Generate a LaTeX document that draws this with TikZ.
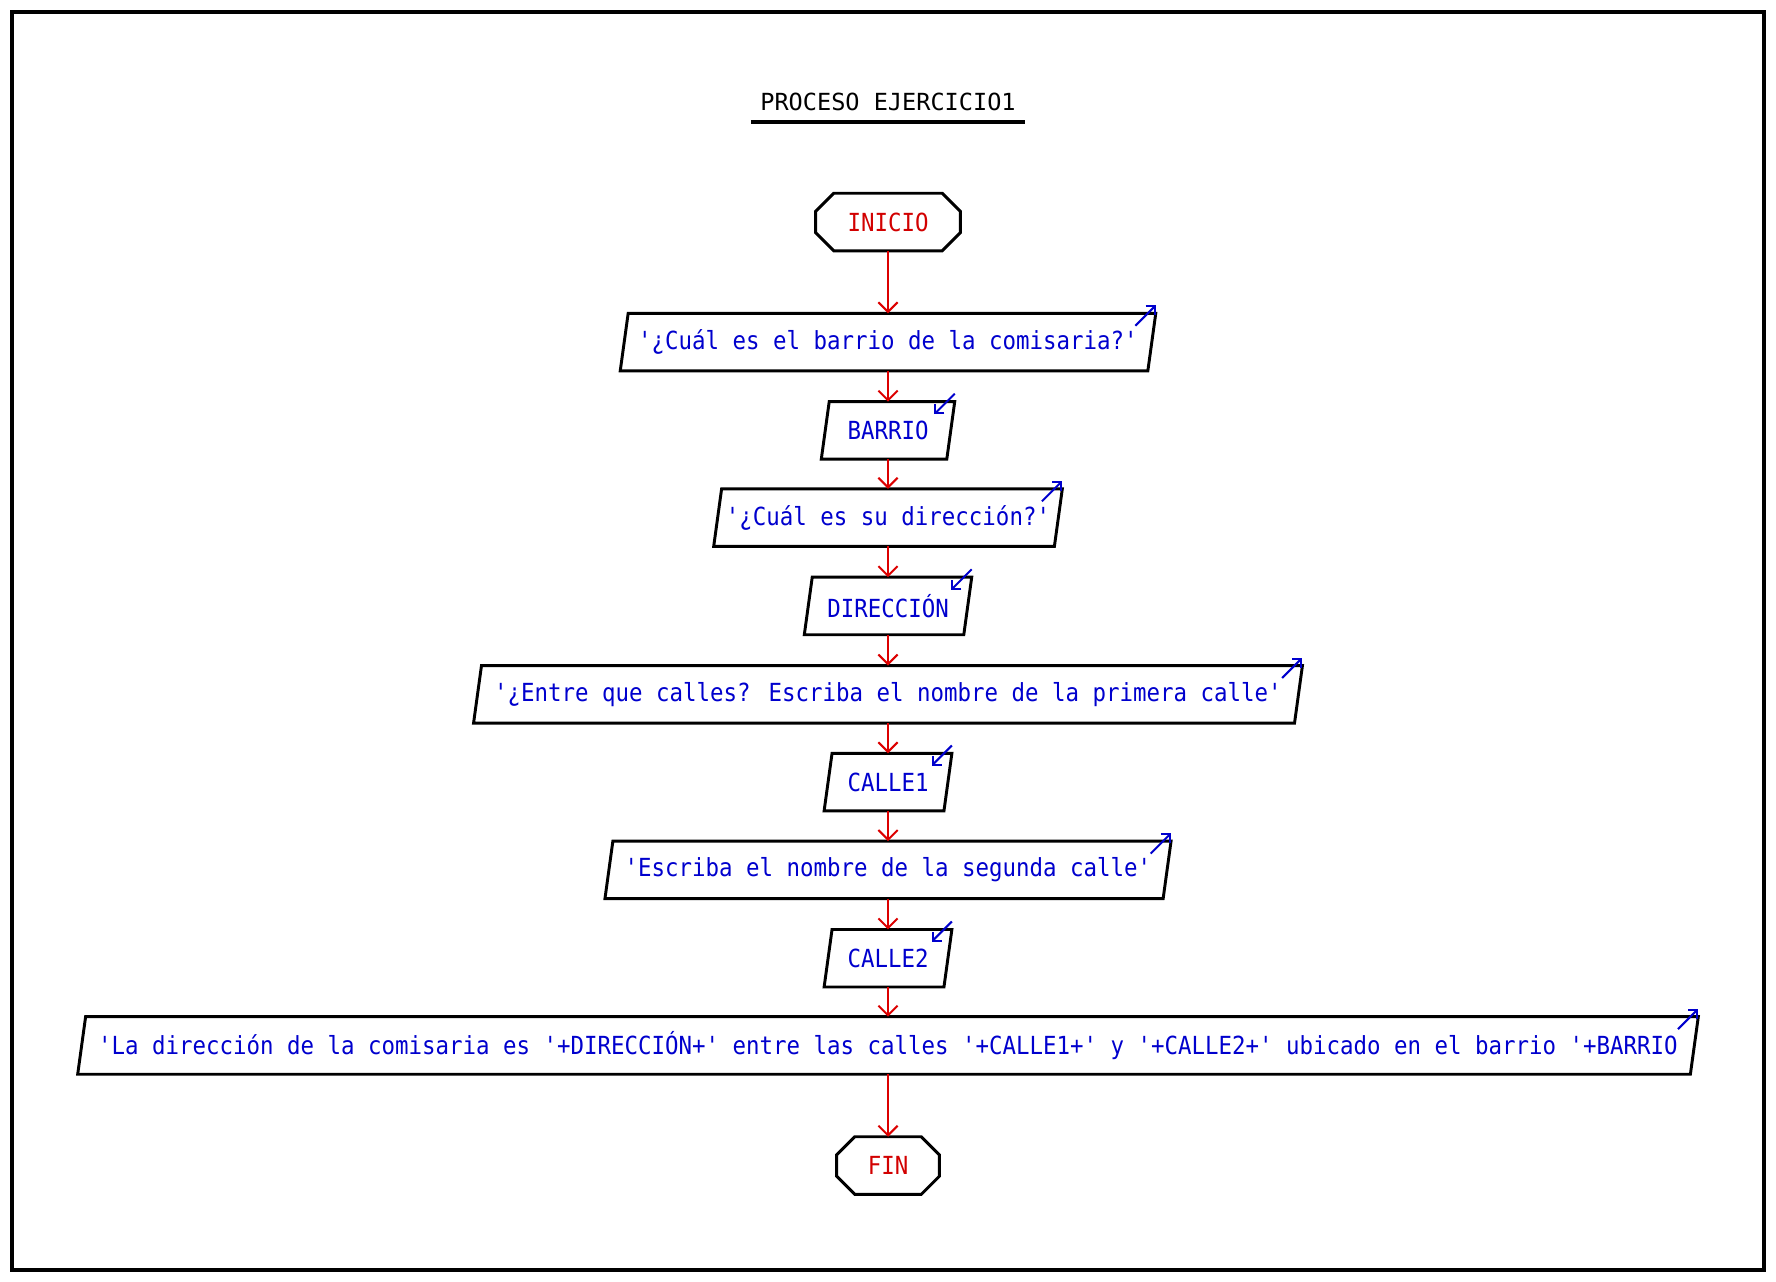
\documentclass[tikz,border=0pt]{standalone}
\usepackage{fontspec}
\setmonofont{DejaVu Sans Mono}
\newfontfamily\flowfont[FakeStretch=0.9]{DejaVu Sans Mono}
\usepackage{xcolor}
\usepackage{tikz}
\usetikzlibrary{calc, arrows.meta}
\definecolor{flowred}{RGB}{220,0,0}
\definecolor{textred}{RGB}{210,0,0}
\definecolor{textblue}{RGB}{0,0,205}
\tikzset{
	boxline/.style = {line width=1.3pt, line join=miter},
	flow/.style = {draw=flowred, line width=0.9pt, -{Straight Barb[angle=90:6pt]}},
	iomark/.style = {draw=textblue, line width=0.9pt, -{Straight Barb[angle=90:4pt]}},
	iobox/.style = {minimum height=25pt, inner sep=0pt, text=textblue, font=\flowfont\fontsize{11}{13}\selectfont},
	terminal/.style = {minimum height=25pt, inner sep=0pt, text=textred, font=\flowfont\fontsize{11}{13}\selectfont},
}
% parallelogram round a node
\newcommand{\IOBox}[1]{%
	\draw [boxline] ($(#1.north west)+(\slant,0)$) -- ($(#1.north east)+(\slant,0)$) -- ($(#1.south east)-(\slant,0)$) -- ($(#1.south west)-(\slant,0)$) -- cycle;%
}
% chamfered box for start and end
\newcommand{\Terminal}[1]{%
	\draw [boxline] ($(#1.north west)+(\cut,0)$) -- ($(#1.north east)+(-\cut,0)$) -- ($(#1.north east)+(0,\cut)$) -- ($(#1.south east)+(0,-\cut)$) -- ($(#1.south east)+(-\cut,0)$) -- ($(#1.south west)+(\cut,0)$) -- ($(#1.south west)+(0,-\cut)$) -- ($(#1.north west)+(0,\cut)$) -- cycle;%
}
\newcommand{\OutMark}[1]{\draw [iomark] ($(#1.north east)+(\slant,0)+(-18,11)$) -- ++(18,-18);}
\newcommand{\InMark}[1]{\draw [iomark] ($(#1.north east)+(\slant,0)+(0,-7)$) -- ++(-18,18);}

\begin{document}
\begin{tikzpicture}[x=0.5pt, y=-0.5pt]
	\def\cx{784};
	\def\slant{3.5};
	\def\cut{16};
	
	\useasboundingbox (0,0) rectangle (1568,1131);
	\draw [line width=1.5pt] (10.6,10.6) rectangle (1557.4,1121.2);
	
	\node [font=\ttfamily\fontsize{10.4}{12}\selectfont] (titulo) at (\cx,90) {PROCESO EJERCICIO1};
	\draw [line width=1.8pt] ($(titulo.center)+(-121,18)$) -- ++(242,0);
	
	\node [terminal, minimum width=63.5pt] (inicio) at (\cx,196) {INICIO};
	\node [iobox, minimum width=232.5pt] (q1) at (\cx,302) {'¿Cuál es el barrio de la comisaria?'};
	\node [iobox, minimum width=55pt] (barrio) at (\cx,380) {BARRIO};
	\node [iobox, minimum width=150pt] (q2) at (\cx,457) {'¿Cuál es su dirección?'};
	\node [iobox, minimum width=70pt] (direccion) at (\cx,535) {DIRECCIÓN};
	\node [iobox, minimum width=362pt] (q3) at (\cx,613) {'¿Entre que calles? Escriba el nombre de la primera calle'};
	\node [iobox, minimum width=52.5pt] (calle1) at (\cx,690.5) {CALLE1};
	\node [iobox, minimum width=246pt] (q4) at (\cx,768) {'Escriba el nombre de la segunda calle'};
	\node [iobox, minimum width=52.5pt] (calle2) at (\cx,846) {CALLE2};
	\node [iobox, minimum width=711.5pt] (msg) at (\cx,923) {'La dirección de la comisaria es '+DIRECCIÓN+' entre las calles '+CALLE1+' y '+CALLE2+' ubicado en el barrio '+BARRIO};
	\node [terminal, minimum width=45pt] (fin) at (\cx,1029) {FIN};
	
	\Terminal{inicio}
	\Terminal{fin}
	\foreach \n in {q1, barrio, q2, direccion, q3, calle1, q4, calle2, msg}
		\IOBox{\n};
	\foreach \n in {q1, q2, q3, q4, msg}
		\OutMark{\n};
	\foreach \n in {barrio, direccion, calle1, calle2}
		\InMark{\n};
	
	\foreach \a/\b in {inicio/q1, q1/barrio, barrio/q2, q2/direccion, direccion/q3, q3/calle1, calle1/q4, q4/calle2, calle2/msg, msg/fin}
		\draw [flow] (\a) -- (\b);
\end{tikzpicture}
\end{document}
